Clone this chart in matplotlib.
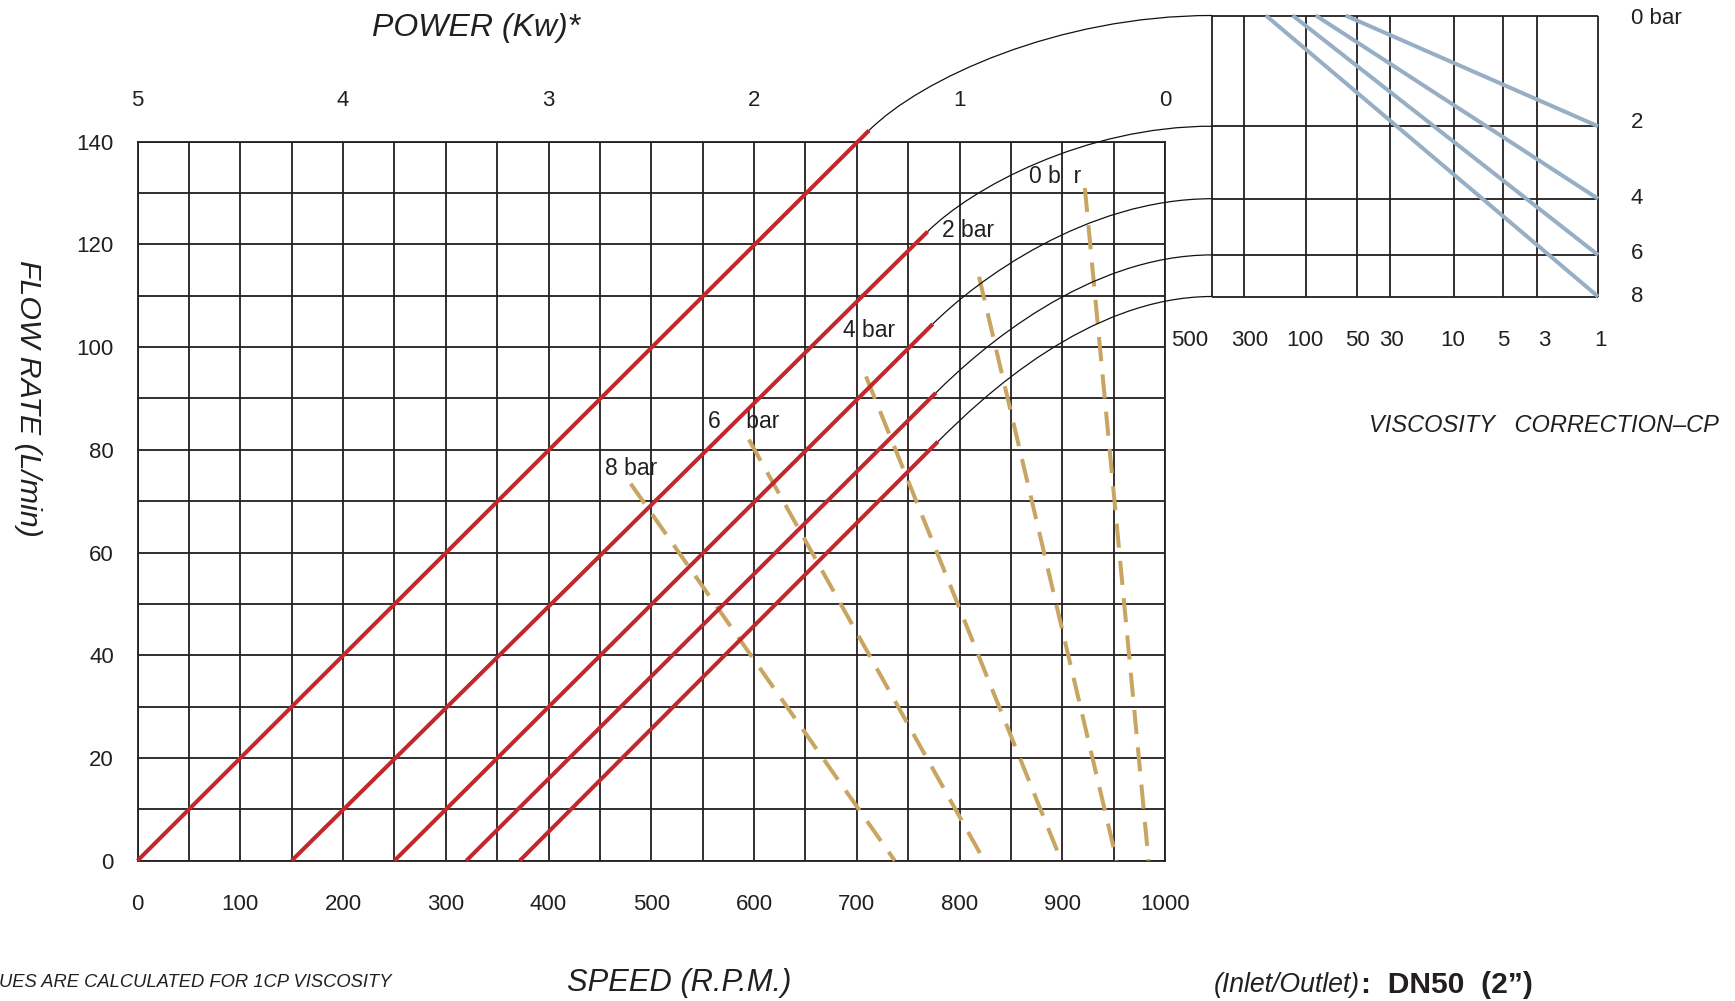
import matplotlib
matplotlib.use('Agg')
import matplotlib.pyplot as plt
from matplotlib.path import Path
from matplotlib.patches import PathPatch
import numpy as np

plt.rcParams['font.family'] = ['Liberation Sans', 'DejaVu Sans']

# 主图: 转速 (rpm) - 流量 (L/min)
pressure_names = ['0 bar', '2 bar', '4 bar', '6 bar', '8 bar']
red_start_speed = [0, 150, 250, 320, 372]
red_end_speed = [712, 769, 774, 777, 779]
red_end_flow = [142.2, 122.5, 104.5, 91.1, 81.6]

# 功率虚线 (上端 -> 流量 0)
power_top_speed = [922, 819, 709, 595, 480]
power_top_flow = [131, 113.7, 94.3, 82, 73.4]
power_bottom_speed = [984, 953, 899, 824, 737]

speed_ticks = list(range(0, 1001, 100))
flow_ticks = list(range(0, 141, 20))
power_ticks = [5, 4, 3, 2, 1, 0]

# 粘度修正图
visc_labels = ['500', '300', '100', '50', '30', '10', '5', '3', '1']
visc_label_pos = [-0.059, 0.098, 0.240, 0.377, 0.465, 0.623, 0.755, 0.862, 1.007]
visc_grid_pos = [0, 0.083, 0.243, 0.376, 0.46, 0.626, 0.754, 0.842, 1.0]
visc_row_labels = ['0 bar', '2', '4', '6', '8']
visc_row_pos = [1.0, 0.606, 0.348, 0.148, 0.0]
visc_line_start = [0.346, 0.269, 0.209, 0.1395]  # 2, 4, 6, 8 bar

grid_c = '#231F20'
red = '#C1272D'
tan = '#C8A562'
blue = '#97AFC4'

W, H = 1735, 1001
fig = plt.figure(figsize=(W / 100, H / 100), dpi=100)

ax = fig.add_axes([137.5 / W, (H - 860.7) / H, 1027.5 / W, 719 / H])
ax.set_xlim(0, 1000)
ax.set_ylim(0, 140)
ax.set_xticks(speed_ticks)
ax.set_xticks(range(50, 1000, 100), minor=True)
ax.set_yticks(flow_ticks)
ax.set_yticks(range(10, 140, 20), minor=True)
ax.grid(which='both', color=grid_c, lw=1.3)
ax.set_axisbelow(True)
for sp in ax.spines.values():
    sp.set_color(grid_c)
    sp.set_linewidth(1.3)
ax.tick_params(axis='x', which='both', length=0, labelsize=16, pad=24, colors='#231F20')
ax.tick_params(axis='y', which='both', length=0, labelsize=16, pad=17, colors='#231F20')

sec = ax.secondary_xaxis('top', functions=(lambda s: 5 - np.asarray(s) / 200,
                                           lambda p: (5 - np.asarray(p)) * 200))
sec.set_xticks(power_ticks)
sec.tick_params(length=0, labelsize=16, pad=22, colors='#231F20')
sec.spines['top'].set_visible(False)

for s0, s1, f1 in zip(red_start_speed, red_end_speed, red_end_flow):
    ax.plot([s0, s1], [0, f1], color=red, lw=2.9, solid_capstyle='butt', clip_on=False, zorder=4)

for st, ft, sb in zip(power_top_speed, power_top_flow, power_bottom_speed):
    ax.plot([st, sb], [ft, 0], color=tan, lw=2.9, dashes=(6, 3.3), dash_capstyle='butt',
            clip_on=False, zorder=3)

# 压力标注
ax.text(867.7, 133.2, '0 b  r', fontsize=16.5, va='center', color='#231F20')
ax.text(782.6, 122.8, '2 bar', fontsize=16.5, va='center', color='#231F20')
ax.text(686.6, 103.2, '4 bar', fontsize=16.5, va='center', color='#231F20')
ax.text(555, 85.5, '6    bar', fontsize=16.5, va='center', color='#231F20')
ax.text(455, 76.3, '8 bar', fontsize=16.5, va='center', color='#231F20')

# 右上角粘度修正
axv = fig.add_axes([1212 / W, (H - 296.5) / H, 386 / W, 281 / H])
axv.set_xlim(0, 1)
axv.set_ylim(0, 1)
axv.axis('off')
axv.vlines(visc_grid_pos, 0, 1, color=grid_c, lw=1.3, clip_on=False)
axv.hlines(visc_row_pos, 0, 1, color=grid_c, lw=1.3, clip_on=False)
for x0, row in zip(visc_line_start, visc_row_pos[1:]):
    axv.plot([x0, 1], [1, row], color=blue, lw=2.9, solid_capstyle='butt', clip_on=False)
for lab, xp in zip(visc_labels, visc_label_pos):
    axv.text(xp, -0.155, lab, fontsize=16, ha='center', va='center', color='#231F20')
for lab, yp, dy in zip(visc_row_labels, visc_row_pos, [-0.01, 0.012, 0, 0.005, 0]):
    axv.text(1.085, yp + dy, lab, fontsize=16, ha='left', va='center', color='#231F20')

# 连接曲线
to_fig = fig.transFigure.inverted()
for i in range(len(pressure_names)):
    p0 = ax.transData.transform((red_end_speed[i], red_end_flow[i]))
    p3 = axv.transData.transform((0, visc_row_pos[i]))
    dx = p3[0] - p0[0]
    dy = p3[1] - p0[1]
    d = np.hypot(dx, dy)
    p1 = p0 + 0.2 * d * np.array([0.7071, 0.7071])
    p2 = p3 - np.array([0.45 * dx, 0])
    pts = to_fig.transform(np.vstack([p0, p1, p2, p3]))
    path = Path(pts, [Path.MOVETO, Path.CURVE4, Path.CURVE4, Path.CURVE4])
    fig.add_artist(PathPatch(path, fill=False, edgecolor='#111111', lw=0.9,
                             transform=fig.transFigure))

# 文字
fig.text(476 / W, 1 - 27.7 / H, 'POWER (Kw)*', fontsize=23, style='italic',
         ha='center', va='center', color='#231F20')
fig.text(28 / W, 1 - 398 / H, 'FLOW RATE (L/min)', fontsize=21.8, style='italic',
         rotation=270, ha='center', va='center', color='#231F20')
fig.text(679 / W, 1 - 983 / H, 'SPEED (R.P.M.)', fontsize=22.2, style='italic',
         ha='center', va='center', color='#231F20')
fig.text(-1 / W, 1 - 982.5 / H, 'UES ARE CALCULATED FOR 1CP VISCOSITY', fontsize=13.2, style='italic',
         ha='left', va='center', color='#231F20')
fig.text(1369 / W, 1 - 425 / H, 'VISCOSITY   CORRECTION\u2013CP', fontsize=17, style='italic',
         ha='left', va='center', color='#231F20')
fig.text(1214 / W, 1 - 985 / H, '(Inlet/Outlet)', fontsize=19.2, style='italic',
         ha='left', va='center', color='#231F20')
fig.text(1361 / W, 1 - 985 / H, ':  DN50  (2\u201d)', fontsize=21.6, fontweight='bold',
         ha='left', va='center', color='#231F20')

fig.savefig('out.png', dpi=100)
